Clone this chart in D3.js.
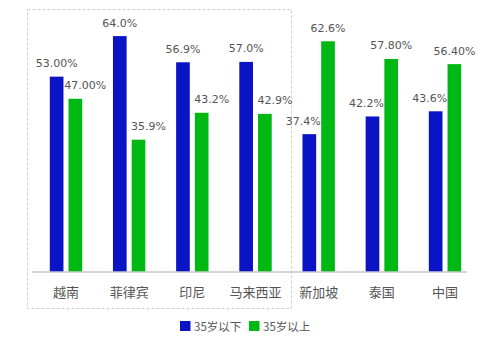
<!DOCTYPE html>
<html>
<head>
<meta charset="utf-8">
<script src="https://cdn.jsdelivr.net/npm/d3@7"></script>
<style>
  html, body { margin: 0; padding: 0; background: #fff; }
  svg { display: block; }
</style>
</head>
<body>
<svg id="chart" width="500" height="344"></svg>
<script>
// Age split of users by country
const categories = ["越南", "菲律宾", "印尼", "马来西亚", "新加坡", "泰国", "中国"];
const seriesNames = ["35岁以下", "35岁以上"];
const under35 = [53.00, 64.0, 56.9, 57.0, 37.4, 42.2, 43.6];
const over35  = [47.00, 35.9, 43.2, 42.9, 62.6, 57.80, 56.40];
const under35Labels = ["53.00%", "64.0%", "56.9%", "57.0%", "37.4%", "42.2%", "43.6%"];
const over35Labels  = ["47.00%", "35.9%", "43.2%", "42.9%", "62.6%", "57.80%", "56.40%"];

const colors = ["#0a14c4", "#00b814"];
const textColor = "#555";
const numFont = "'DejaVu Sans', Verdana, sans-serif";
const cjkFont = "'Noto Sans CJK SC', 'Noto Sans', sans-serif";

const svg = d3.select("#chart");

const x0 = d3.scaleBand().domain(categories).range([34.4, 476.6]).padding(0);
const bw = x0.bandwidth();
const x1 = d3.scaleBand().domain(seriesNames)
  .range([bw / 2 - 16.2, bw / 2 + 16.2]).paddingInner(0.27);
const y = d3.scaleLinear().domain([0, 70]).range([272, 14]);

// dashed frame around the first four countries
svg.append("rect")
  .attr("x", 27.5).attr("y", 9.5)
  .attr("width", 264).attr("height", 299)
  .attr("fill", "none")
  .attr("stroke", "#cfcfcf")
  .attr("stroke-dasharray", "3,2");

const rows = categories.map((c, i) => ({
  cat: c,
  vals: [
    { s: seriesNames[0], v: under35[i], label: under35Labels[i] },
    { s: seriesNames[1], v: over35[i], label: over35Labels[i] }
  ]
}));

const groups = svg.append("g").selectAll("g")
  .data(rows).join("g")
  .attr("transform", d => `translate(${x0(d.cat)},0)`);

groups.selectAll("rect")
  .data(d => d.vals).join("rect")
  .attr("x", d => x1(d.s))
  .attr("y", d => y(d.v))
  .attr("width", x1.bandwidth())
  .attr("height", d => y(0) - y(d.v))
  .attr("fill", (d, i) => colors[i]);

// value labels: the shorter bar's label is nudged outward so the pair stays readable
groups.each(function (d) {
  const g = d3.select(this);
  const shorter = d.vals[0].v < d.vals[1].v ? 0 : 1;
  d.vals.forEach((v, i) => {
    let cx = x1(v.s) + x1.bandwidth() / 2;
    if (i === shorter) cx += (i === 0 ? -6 : 10);
    g.append("text")
      .attr("x", cx)
      .attr("y", y(v.v) - 9.5)
      .attr("text-anchor", "middle")
      .attr("font-family", numFont)
      .attr("font-size", 11)
      .attr("fill", textColor)
      .text(v.label);
  });
});

// baseline axis with category names
const axis = d3.axisBottom(x0).tickSize(0).tickPadding(0);
const axG = svg.append("g")
  .attr("transform", `translate(0,${y(0) - 0.5})`)
  .call(axis);
axG.select(".domain")
  .attr("d", "M32,0.5H467")
  .attr("stroke", "#c8c8c8")
  .attr("stroke-width", 1.5);
axG.selectAll(".tick text")
  .attr("dy", 0)
  .attr("y", 25)
  .attr("font-family", cjkFont)
  .attr("font-size", 13)
  .attr("fill", textColor);

// legend
const legend = svg.append("g").attr("transform", "translate(180,321)");
const legendX = [0, 69];
seriesNames.forEach((name, i) => {
  const item = legend.append("g").attr("transform", `translate(${legendX[i]},0)`);
  item.append("rect")
    .attr("width", 10.5).attr("height", 10)
    .attr("fill", colors[i]);
  item.append("text")
    .attr("x", 14).attr("y", 9.5)
    .attr("font-family", cjkFont)
    .attr("font-size", 11.5)
    .attr("fill", textColor)
    .text(name);
});
</script>
</body>
</html>
